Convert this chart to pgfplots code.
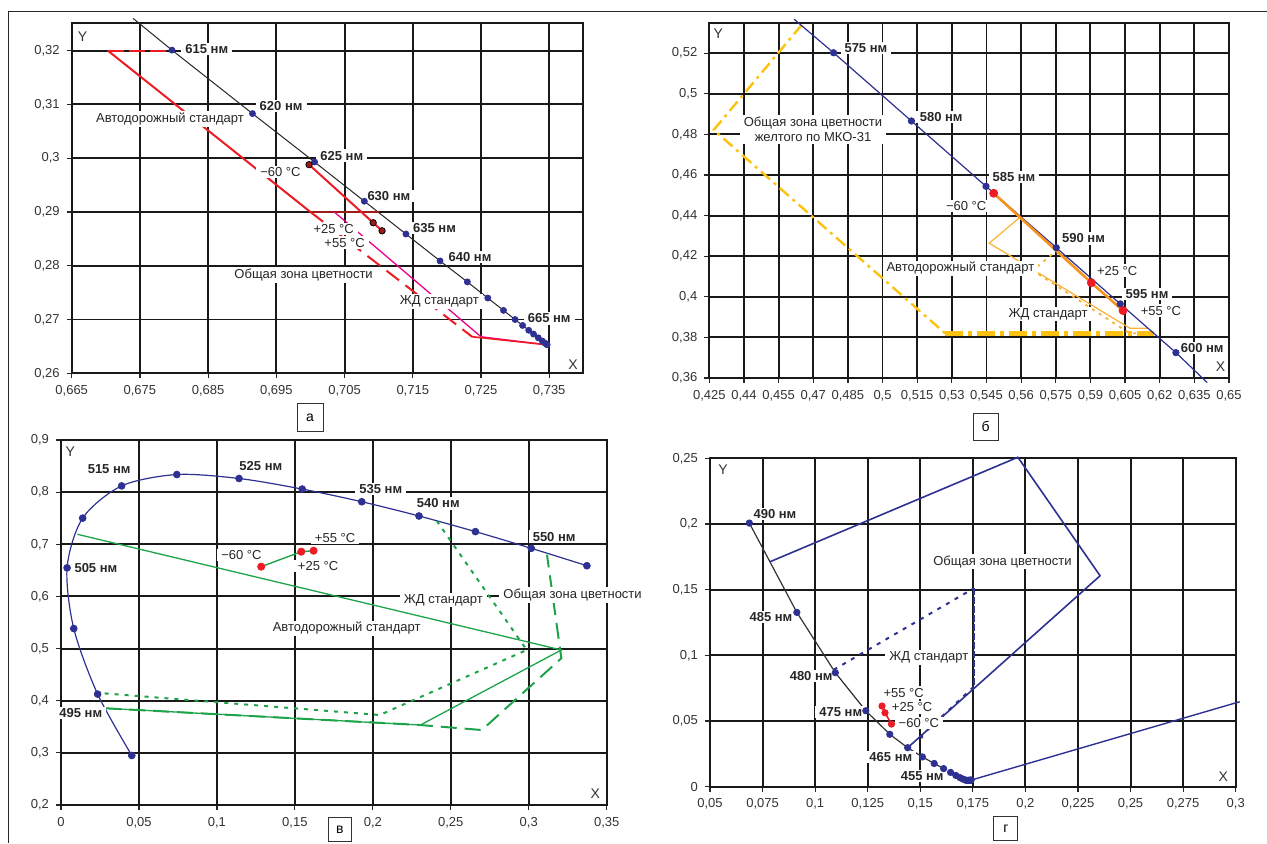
\documentclass[border=0pt]{standalone}
\usepackage{fontspec}
\setmainfont{Liberation Sans}
\usepackage{pgfplots}
\pgfplotsset{compat=1.18}
\definecolor{navy}{HTML}{2E3192}
\definecolor{lred}{HTML}{ED1C24}
\definecolor{mag}{HTML}{EC008C}
\definecolor{yel}{HTML}{FDC20F}
\definecolor{yel2}{HTML}{F9B233}
\definecolor{orng}{HTML}{F7941D}
\definecolor{grn}{HTML}{1DA34A}
\definecolor{dred}{HTML}{9E1B1B}
\tikzset{
  lab/.style={font=\fontsize{6.5}{7.5}\selectfont, fill=white, inner xsep=2pt, inner ysep=0.8pt, text=black!85},
  nm/.style={font=\fontsize{6.5}{7.5}\selectfont\bfseries, fill=white, inner xsep=2pt, inner ysep=0.8pt, text=black!85},
  axl/.style={font=\fontsize{7}{8}\selectfont, text=black!80, inner sep=0pt},
}
\pgfplotsset{
  panel/.style={
    scale only axis, anchor=south west, clip=false,
    axis line style={black!90, line width=0.95pt},
    grid=major, major grid style={black!90, line width=0.95pt},
    tick align=outside, major tick length=2.5pt,
    tick style={black!85, line width=0.6pt},
    xtick pos=bottom, ytick pos=left,
    ticklabel style={font=\fontsize{6.5}{7}\selectfont, color=black!80},
    /pgf/number format/fixed, /pgf/number format/precision=3,
    /pgf/number format/use comma, /pgf/number format/assume math mode=true,
  },
  nav/.style={only marks, mark=*, mark size=1.6pt, mark options={draw=navy, fill=navy}},
  redp/.style={only marks, mark=*, mark size=1.8pt, mark options={draw=lred, fill=lred}},
}
\begin{document}
\begin{tikzpicture}
\path[use as bounding box] (0,0) rectangle (633.5pt,421.5pt);
\draw[black!85, line width=0.75pt] (633.5pt,415.65pt) -- (4.15pt,415.65pt) -- (4.15pt,0pt);

% ---------------- panel a ----------------
\begin{axis}[panel, at={(35.85pt,234.85pt)}, width=255.8pt, height=175.3pt,
  xmin=0.665, xmax=0.74, ymin=0.26, ymax=0.3252,
  xtick={0.665,0.675,0.685,0.695,0.705,0.715,0.725,0.735},
  ytick={0.26,0.27,0.28,0.29,0.3,0.31,0.32}]
\addplot[black!85, line width=0.5pt] coordinates {(0.6740,0.3260) (0.6797,0.3201) (0.6915,0.3083) (0.7006,0.2993) (0.7079,0.2920) (0.7140,0.2859) (0.7190,0.2809) (0.7230,0.2770) (0.7260,0.2740) (0.7283,0.2717) (0.7300,0.2700) (0.7311,0.2689) (0.7320,0.2680) (0.7327,0.2673) (0.7334,0.2666) (0.7340,0.2660) (0.7344,0.2656) (0.7346,0.2654) (0.7347,0.2653)};
\addplot[lred, line width=1.1pt, dash pattern=on 8pt off 2.5pt] coordinates {(0.6703,0.3200) (0.6797,0.3200)};
\addplot[lred, line width=1pt] coordinates {(0.6703,0.3200) (0.7000,0.2900)};
\addplot[dred, line width=0.9pt] coordinates {(0.7000,0.2900) (0.7100,0.2900)};
\addplot[lred, line width=1pt, dash pattern=on 8pt off 4pt] coordinates {(0.7000,0.2900) (0.7237,0.2668)};
\addplot[mag, line width=0.65pt] coordinates {(0.7035,0.2900) (0.7250,0.2668) (0.7347,0.2653)};
\addplot[lred, line width=0.8pt] coordinates {(0.7237,0.2668) (0.7347,0.2653)};
\addplot[lred, line width=1pt] coordinates {(0.6998,0.2988) (0.7092,0.2880) (0.7105,0.2865)};
\node[nm] at (axis cs:0.6848,0.3203) {615 нм};
\node[nm] at (axis cs:0.6957,0.3097) {620 нм};
\node[nm] at (axis cs:0.7046,0.3005) {625 нм};
\node[nm] at (axis cs:0.7115,0.2930) {630 нм};
\node[nm] at (axis cs:0.7182,0.2870) {635 нм};
\node[nm] at (axis cs:0.7234,0.2816) {640 нм};
\node[nm] at (axis cs:0.7350,0.2702) {665 нм};
\node[lab] at (axis cs:0.6794,0.3073) {Автодорожный стандарт};
\node[lab] at (axis cs:0.6956,0.2974) {−60 °C};
\node[lab] at (axis cs:0.7034,0.2868) {+25 °C};
\node[lab] at (axis cs:0.7050,0.2843) {+55 °C};
\node[lab] at (axis cs:0.6990,0.2783) {Общая зона цветности};
\node[lab] at (axis cs:0.7189,0.2733) {ЖД стандарт};
\node[axl] at (axis cs:0.6666,0.3226) {Y};
\node[axl] at (axis cs:0.7385,0.2616) {X};
\addplot[nav, mark size=1.5pt] coordinates {(0.6797,0.3201) (0.6915,0.3083) (0.7006,0.2993) (0.7079,0.2920) (0.7140,0.2859) (0.7190,0.2809) (0.7230,0.2770) (0.7260,0.2740) (0.7283,0.2717) (0.7300,0.2700) (0.7311,0.2689) (0.7320,0.2680) (0.7327,0.2673) (0.7334,0.2666) (0.7340,0.2660) (0.7344,0.2656) (0.7346,0.2654) (0.7347,0.2653)};
\addplot[only marks, mark=*, mark size=1.6pt, mark options={draw=black, fill=dred}] coordinates {(0.6998,0.2988) (0.7092,0.2880) (0.7105,0.2865)};
\end{axis}

% ---------------- panel b ----------------
\begin{axis}[panel, at={(354.65pt,232.5pt)}, width=259.85pt, height=177.65pt,
  xmin=0.425, xmax=0.65, ymin=0.36, ymax=0.535,
  xtick={0.425,0.44,0.455,0.47,0.485,0.5,0.515,0.53,0.545,0.56,0.575,0.59,0.605,0.62,0.635,0.65},
  ytick={0.36,0.38,0.4,0.42,0.44,0.46,0.48,0.5,0.52}]
\addplot[yel, line width=1.2pt, dash pattern=on 6pt off 2.5pt on 1.5pt off 2.5pt] coordinates {(0.4650,0.5339) (0.4269,0.4822) (0.5271,0.3820)};
\addplot[yel, line width=2.2pt, dash pattern=on 9pt off 2.5pt on 2pt off 2.5pt] coordinates {(0.5271,0.3820) (0.6174,0.3820)};
\addplot[yel2, line width=0.6pt] coordinates {(0.5598,0.4395) (0.5462,0.4264) (0.6071,0.3845) (0.6149,0.3845)};
\addplot[yel2, line width=0.9pt, dash pattern=on 1.5pt off 2.5pt] coordinates {(0.5760,0.4234) (0.5650,0.4130) (0.6070,0.3820) (0.6170,0.3820)};
\addplot[navy, line width=0.6pt] coordinates {(0.4617,0.5367) (0.4788,0.5202) (0.5125,0.4866) (0.5448,0.4544) (0.5752,0.4242) (0.6029,0.3965) (0.6270,0.3725) (0.6406,0.3577)};
\addplot[orng, line width=1.3pt] coordinates {(0.5481,0.4510) (0.5904,0.4069) (0.6041,0.3932)};
\node[nm] at (axis cs:0.4928,0.5227) {575 нм};
\node[nm] at (axis cs:0.5254,0.4887) {580 нм};
\node[nm] at (axis cs:0.5569,0.4589) {585 нм};
\node[nm] at (axis cs:0.5870,0.4288) {590 нм};
\node[nm] at (axis cs:0.6145,0.4014) {595 нм};
\node[nm] at (axis cs:0.6384,0.3749) {600 нм};
\node[lab, align=center, font=\fontsize{6.5}{7.8}\selectfont] at (axis cs:0.4699,0.4824) {Общая зона цветности\\желтого по МКО-31};
\node[lab] at (axis cs:0.5362,0.4447) {−60 °C};
\node[lab] at (axis cs:0.5337,0.4140) {Автодорожный стандарт};
\node[lab] at (axis cs:0.6016,0.4129) {+25 °C};
\node[lab] at (axis cs:0.6205,0.3932) {+55 °C};
\node[lab] at (axis cs:0.5717,0.3915) {ЖД стандарт};
\node[axl] at (axis cs:0.4289,0.5298) {Y};
\node[axl] at (axis cs:0.6463,0.3656) {X};
\addplot[nav] coordinates {(0.4788,0.5202) (0.5125,0.4866) (0.5448,0.4544) (0.5752,0.4242) (0.6029,0.3965) (0.6270,0.3725)};
\addplot[redp, mark size=2pt] coordinates {(0.5481,0.4510) (0.5904,0.4069) (0.6041,0.3932)};
\end{axis}

% ---------------- panel c ----------------
\begin{axis}[panel, at={(30.5pt,19pt)}, width=272.85pt, height=182.5pt,
  xmin=0, xmax=0.35, ymin=0.2, ymax=0.9,
  xtick={0,0.05,0.1,0.15,0.2,0.25,0.3,0.35},
  ytick={0.2,0.3,0.4,0.5,0.6,0.7,0.8,0.9}]
\addplot[navy, line width=0.6pt, smooth] coordinates {(0.0454,0.2950) (0.0235,0.4127) (0.0082,0.5384) (0.0039,0.6548) (0.0139,0.7502) (0.0389,0.8120) (0.0743,0.8338) (0.1142,0.8262) (0.1547,0.8059) (0.1929,0.7816) (0.2296,0.7543) (0.2658,0.7243) (0.3016,0.6923) (0.3373,0.6589)};
\addplot[grn, line width=0.65pt] coordinates {(0.0105,0.7192) (0.3209,0.4973) (0.2305,0.3534) (0.0284,0.3855)};
\addplot[grn, line width=1pt, dash pattern=on 2pt off 3pt] coordinates {(0.2410,0.7449) (0.2987,0.4973) (0.2044,0.3726) (0.0240,0.4150)};
\addplot[grn, line width=1pt, dash pattern=on 8pt off 4pt] coordinates {(0.0284,0.3855) (0.2305,0.3534) (0.2699,0.3438) (0.3209,0.4814) (0.3117,0.6800)};
\addplot[grn, line width=0.7pt] coordinates {(0.1284,0.6571) (0.1541,0.6858) (0.1620,0.6877)};
\node[nm] at (axis cs:0.0309,0.8444) {515 нм};
\node[nm] at (axis cs:0.1282,0.8502) {525 нм};
\node[nm] at (axis cs:0.2051,0.8055) {535 нм};
\node[nm] at (axis cs:0.2420,0.7786) {540 нм};
\node[nm] at (axis cs:0.3163,0.7146) {550 нм};
\node[nm] at (axis cs:0.0224,0.6551) {505 нм};
\node[nm] at (axis cs:0.0127,0.3759) {495 нм};
\node[lab] at (axis cs:0.1758,0.7127) {+55 °C};
\node[lab] at (axis cs:0.1157,0.6795) {−60 °C};
\node[lab] at (axis cs:0.1649,0.6584) {+25 °C};
\node[lab] at (axis cs:0.2452,0.5932) {ЖД стандарт};
\node[lab] at (axis cs:0.3281,0.6028) {Общая зона цветности};
\node[lab] at (axis cs:0.1832,0.5389) {Автодорожный стандарт};
\node[axl] at (axis cs:0.0059,0.8776) {Y};
\node[axl] at (axis cs:0.3427,0.2224) {X};
\addplot[nav, mark size=1.7pt] coordinates {(0.0454,0.2950) (0.0235,0.4127) (0.0082,0.5384) (0.0039,0.6548) (0.0139,0.7502) (0.0389,0.8120) (0.0743,0.8338) (0.1142,0.8262) (0.1547,0.8059) (0.1929,0.7816) (0.2296,0.7543) (0.2658,0.7243) (0.3016,0.6923) (0.3373,0.6589)};
\addplot[redp] coordinates {(0.1284,0.6571) (0.1541,0.6858) (0.1620,0.6877)};
\end{axis}

% ---------------- panel d ----------------
\begin{axis}[panel, at={(355pt,28.15pt)}, width=262.85pt, height=164.2pt,
  xmin=0.05, xmax=0.3, ymin=0, ymax=0.25,
  xtick={0.05,0.075,0.1,0.125,0.15,0.175,0.2,0.225,0.25,0.275,0.3},
  ytick={0,0.05,0.1,0.15,0.2,0.25}]
\addplot[black!80, line width=0.6pt] coordinates {(0.0687,0.2007) (0.0913,0.1327) (0.1096,0.0868) (0.1241,0.0578) (0.1355,0.0399) (0.1440,0.0297) (0.1510,0.0227) (0.1566,0.0177) (0.1611,0.0138) (0.1644,0.0109) (0.1669,0.0086) (0.1689,0.0069) (0.1703,0.0058) (0.1714,0.0051) (0.1721,0.0048) (0.1726,0.0048) (0.1731,0.0049) (0.1733,0.0048) (0.1736,0.0049) (0.1738,0.0049) (0.1740,0.0050) (0.1741,0.0050)};
\addplot[navy, line width=0.8pt] coordinates {(0.0786,0.1713) (0.1964,0.2508) (0.2355,0.1606) (0.1440,0.0297)};
\addplot[navy, line width=0.7pt] coordinates {(0.1741,0.0050) (0.3019,0.0647)};
\addplot[navy, line width=1pt, dash pattern=on 2pt off 3pt] coordinates {(0.1088,0.0890) (0.1754,0.1510)};
\addplot[navy, line width=1.2pt, dash pattern=on 3.5pt off 1pt] coordinates {(0.1754,0.1510) (0.1754,0.0761)};
\addplot[navy, line width=1pt, dash pattern=on 2pt off 3pt] coordinates {(0.1754,0.0761) (0.1509,0.0394) (0.1509,0.0350)};
\addplot[lred, line width=0.8pt] coordinates {(0.1318,0.0614) (0.1332,0.0563) (0.1363,0.0477)};
\node[nm] at (axis cs:0.0809,0.2074) {490 нм};
\node[nm] at (axis cs:0.0790,0.1290) {485 нм};
\node[nm] at (axis cs:0.0981,0.0845) {480 нм};
\node[nm] at (axis cs:0.1122,0.0569) {475 нм};
\node[nm] at (axis cs:0.1360,0.0228) {465 нм};
\node[nm] at (axis cs:0.1509,0.0084) {455 нм};
\node[lab] at (axis cs:0.1891,0.1713) {Общая зона цветности};
\node[lab] at (axis cs:0.1541,0.0985) {ЖД стандарт};
\node[lab] at (axis cs:0.1421,0.0716) {+55 °C};
\node[lab] at (axis cs:0.1461,0.0604) {+25 °C};
\node[lab] at (axis cs:0.1493,0.0483) {−60 °C};
\node[axl] at (axis cs:0.0562,0.2411) {Y};
\node[axl] at (axis cs:0.2941,0.0076) {X};
\addplot[nav, mark size=1.6pt] coordinates {(0.0687,0.2007) (0.0913,0.1327) (0.1096,0.0868) (0.1241,0.0578) (0.1355,0.0399) (0.1440,0.0297) (0.1510,0.0227) (0.1566,0.0177) (0.1611,0.0138) (0.1644,0.0109) (0.1669,0.0086) (0.1689,0.0069) (0.1703,0.0058) (0.1714,0.0051) (0.1721,0.0048) (0.1726,0.0048) (0.1731,0.0049) (0.1733,0.0048) (0.1736,0.0049) (0.1738,0.0049) (0.1740,0.0050) (0.1741,0.0050)};
\addplot[redp, mark size=1.6pt] coordinates {(0.1318,0.0614) (0.1332,0.0563) (0.1363,0.0477)};
\end{axis}

% panel letters
\node[draw=black!80, line width=0.5pt, minimum width=13pt, minimum height=14pt, inner sep=0pt, font=\fontsize{7}{8}\selectfont] at (155pt,212.75pt) {а};
\node[draw=black!80, line width=0.5pt, minimum width=12.5pt, minimum height=13.5pt, inner sep=0pt, font=\fontsize{7}{8}\selectfont] at (492.75pt,208.25pt) {б};
\node[draw=black!80, line width=0.5pt, minimum width=11.5pt, minimum height=12pt, inner sep=0pt, font=\fontsize{7}{8}\selectfont] at (169.9pt,6.55pt) {в};
\node[draw=black!80, line width=0.5pt, minimum width=12pt, minimum height=12pt, inner sep=0pt, font=\fontsize{7}{8}\selectfont] at (502.9pt,7.35pt) {г};
\end{tikzpicture}
\end{document}
